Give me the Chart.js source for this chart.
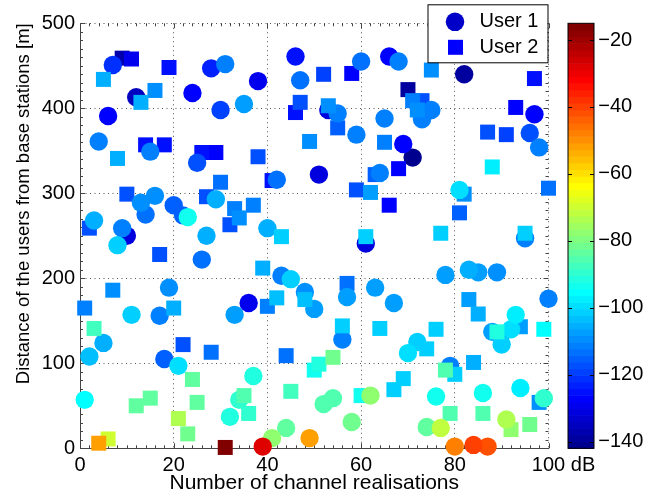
<!DOCTYPE html>
<html>
<head>
<meta charset="utf-8">
<title>User distance vs channel realisations</title>
<script src="https://cdn.jsdelivr.net/npm/chart.js@4/dist/chart.umd.min.js"></script>
<style>
  html, body { margin: 0; padding: 0; background: #fff; }
  #wrap { width: 669px; height: 498px; }
</style>
</head>
<body>
<div id="wrap"><canvas id="chart" width="669" height="498"></canvas></div>
<script>
// channel realisation index (x axis)
const realisations = [
  1, 2, 3, 4, 5, 6, 7, 8, 9, 10, 11, 12, 13, 14, 15, 16, 17, 18, 19, 20,
  21, 22, 23, 24, 25, 26, 27, 28, 29, 30, 31, 32, 33, 34, 35, 36, 37, 38, 39, 40,
  41, 42, 43, 44, 45, 46, 47, 48, 49, 50, 51, 52, 53, 54, 55, 56, 57, 58, 59, 60,
  61, 62, 63, 64, 65, 66, 67, 68, 69, 70, 71, 72, 73, 74, 75, 76, 77, 78, 79, 80,
  81, 82, 83, 84, 85, 86, 87, 88, 89, 90, 91, 92, 93, 94, 95, 96, 97, 98, 99, 100
];

// distance of user 1 (circles) [m]
const user1Distance = [
  57, 108, 268, 361, 124, 391, 451, 239, 259, 250,
  157, 413, 289, 275, 349, 297, 156, 105, 189, 286,
  97, 274, 272, 418, 336, 222, 250, 447, 293, 398,
  452, 37, 157, 57, 405, 171, 85, 432, 2, 259,
  12, 316, 203, 24, 199, 461, 433, 184, 12, 164,
  322, 52, 398, 59, 394, 128, 178, 31, 369, 455,
  241, 62, 189, 324, 388, 461, 171, 455, 358, 112,
  342, 125, 387, 25, 398, 61, 24, 204, 97, 2,
  304, 440, 210, 4, 207, 65, 2, 137, 207, 122,
  34, 140, 157, 71, 247, 371, 393, 354, 59, 176
];
// channel gain of user 1 [dB]
const user1Db = [
  -96, -103, -106, -111, -105, -127, -122, -102, -112, -132,
  -102, -135, -110, -114, -111, -109, -112, -116, -110, -116,
  -99, -116, -94, -128, -118, -114, -106, -124, -106, -120,
  -111, -92, -108, -90, -108, -130, -91, -130, -27, -106,
  -78, -114, -112, -84, -101, -126, -113, -110, -51, -108,
  -132, -86, -132, -86, -111, -112, -108, -81, -111, -113,
  -132, -78, -108, -112, -112, -128, -108, -112, -128, -100,
  -141, -102, -112, -84, -112, -94, -72, -108, -112, -48,
  -100, -140, -105, -40, -108, -94, -41, -108, -110, -102,
  -74, -100, -98, -98, -112, -118, -128, -111, -90, -112
];

// distance of user 2 (squares) [m]
const user2Distance = [
  165, 259, 141, 6, 434, 11, 186, 341, 459, 299,
  458, 50, 407, 357, 59, 421, 228, 357, 448, 165,
  35, 122, 17, 81, 54, 348, 296, 113, 348, 313,
  1, 263, 282, 271, 62, 41, 286, 343, 212, 167,
  315, 177, 249, 109, 67, 395, 407, 175, 361, 92,
  99, 440, 403, 107, 377, 144, 194, 441, 304, 62,
  249, 301, 322, 141, 360, 286, 69, 329, 82, 422,
  409, 398, 409, 117, 445, 140, 253, 92, 41, 87,
  277, 299, 175, 101, 158, 41, 372, 331, 137, 127,
  369, 22, 401, 143, 253, 28, 435, 54, 140, 306
];
// channel gain of user 2 [dB]
const user2Db = [
  -112, -118, -88, -51, -106, -70, -110, -106, -137, -118,
  -130, -84, -106, -126, -84, -110, -118, -126, -126, -106,
  -74, -118, -81, -84, -84, -126, -118, -114, -128, -114,
  -16, -118, -112, -110, -86, -90, -112, -118, -105, -112,
  -126, -103, -101, -114, -87, -126, -118, -103, -110, -94,
  -92, -120, -110, -81, -116, -102, -114, -128, -118, -94,
  -101, -108, -116, -102, -112, -128, -101, -128, -101, -140,
  -112, -110, -118, -101, -110, -102, -101, -86, -86, -101,
  -116, -110, -108, -106, -106, -86, -118, -98, -91, -112,
  -120, -78, -128, -108, -102, -82, -126, -110, -96, -114
];

const xTicks = [0, 20, 40, 60, 80, 100];
const yTicks = [0, 100, 200, 300, 400, 500];
const dbTicks = [-140, -120, -100, -80, -60, -40, -20];
const dbRange = [-142, -15];
const legendLabels = ['User 1', 'User 2'];

const FONT = "'Liberation Sans', Arial, Helvetica, sans-serif";
const NCOL = 64;

// matlab jet(64)
function jet(i) {
  const n = 16;
  const u = k => (k < 1 || k > 47) ? 0 : (k <= n ? k / n : (k <= 31 ? 1 : (48 - k) / n));
  const r = u(i - 24), g = u(i - 8), b = u(i + 8);
  return `rgb(${Math.round(r * 255)},${Math.round(g * 255)},${Math.round(b * 255)})`;
}

function dbColor(v) {
  let idx = Math.floor((v - dbRange[0]) / (dbRange[1] - dbRange[0]) * NCOL);
  idx = Math.max(0, Math.min(NCOL - 1, idx));
  return jet(idx + 1);
}

// one list, weakest gain drawn first
const points = [];
realisations.forEach((r, i) => {
  points.push({ x: r, y: user1Distance[i], db: user1Db[i], style: 'circle' });
  points.push({ x: r, y: user2Distance[i], db: user2Db[i], style: 'rect' });
});
points.sort((a, b) => a.db - b.db);

function setTicks(arr) {
  return scale => { scale.ticks = arr.map(v => ({ value: v })); };
}

// colorbar, tick marks, legend box
const decorations = {
  id: 'decorations',
  beforeDatasetsDraw(chart) {
    const { ctx, chartArea: ca, scales } = chart;
    const xs = scales.x, ys = scales.y;
    ctx.save();
    ctx.strokeStyle = '#444';
    ctx.lineWidth = 1;
    ctx.beginPath();
    for (let v = 0; v <= 100; v += 2) {
      const px = Math.round(xs.getPixelForValue(v)) + 0.5;
      const len = xTicks.includes(v) ? 5 : 3;
      ctx.moveTo(px, ca.bottom); ctx.lineTo(px, ca.bottom - len);
      ctx.moveTo(px, ca.top); ctx.lineTo(px, ca.top + len);
    }
    for (let v = 0; v <= 500; v += 10) {
      const py = Math.round(ys.getPixelForValue(v)) + 0.5;
      const len = yTicks.includes(v) ? 5 : 3;
      ctx.moveTo(ca.left, py); ctx.lineTo(ca.left + len, py);
      ctx.moveTo(ca.right, py); ctx.lineTo(ca.right - len, py);
    }
    ctx.stroke();
    ctx.restore();
  },
  afterDraw(chart) {
    const { ctx, chartArea: ca, scales } = chart;
    const cs = scales.cbar;
    const x0 = ca.right + 19.5, x1 = ca.right + 45.5;
    ctx.save();
    const step = (dbRange[1] - dbRange[0]) / NCOL;
    for (let i = 0; i < NCOL; i++) {
      const yA = cs.getPixelForValue(dbRange[0] + i * step);
      const yB = cs.getPixelForValue(dbRange[0] + (i + 1) * step);
      ctx.fillStyle = jet(i + 1);
      ctx.fillRect(x0, yB, x1 - x0, yA - yB + 0.6);
    }
    ctx.strokeStyle = '#000';
    ctx.lineWidth = 1;
    ctx.strokeRect(x0, cs.top, x1 - x0, cs.bottom - cs.top);
    ctx.beginPath();
    for (const v of dbTicks) {
      const py = Math.round(cs.getPixelForValue(v)) + 0.5;
      ctx.moveTo(x0, py); ctx.lineTo(x0 + 4, py);
      ctx.moveTo(x1, py); ctx.lineTo(x1 - 4, py);
    }
    ctx.stroke();
    ctx.fillStyle = '#000';
    ctx.font = `20px ${FONT}`;
    ctx.textAlign = 'center';
    ctx.textBaseline = 'middle';
    ctx.fillText('dB', (x0 + x1) / 2 + 2, ca.bottom + 17);

    // legend
    const lx0 = ca.right - 121, lx1 = ca.right - 1, ly0 = ca.top - 19, ly1 = ca.top + 39;
    ctx.fillStyle = '#fff';
    ctx.fillRect(lx0, ly0, lx1 - lx0, ly1 - ly0);
    ctx.strokeStyle = '#000';
    ctx.strokeRect(lx0 + 0.5, ly0 + 0.5, lx1 - lx0, ly1 - ly0);
    ctx.fillStyle = '#0000c8';
    ctx.beginPath();
    ctx.arc(lx0 + 27.5, ly0 + 17.5, 9.3, 0, Math.PI * 2);
    ctx.fill();
    ctx.fillStyle = '#0000ff';
    ctx.fillRect(lx0 + 20.5, ly0 + 35.5, 15, 15);
    ctx.fillStyle = '#000';
    ctx.textAlign = 'left';
    ctx.fillText(legendLabels[0], lx0 + 52, ly0 + 17);
    ctx.fillText(legendLabels[1], lx0 + 52, ly0 + 43);
    ctx.restore();
  }
};

const tickFont = { family: FONT, size: 20 };

new Chart(document.getElementById('chart'), {
  type: 'scatter',
  data: {
    datasets: [{
      label: 'users',
      data: points,
      clip: false,
      pointStyle: c => c.raw ? c.raw.style : 'circle',
      pointRadius: c => (c.raw && c.raw.style === 'rect') ? 10.6 : 9.2,
      backgroundColor: c => c.raw ? dbColor(c.raw.db) : '#00f',
      borderWidth: 0,
      pointBorderWidth: 0,
    }]
  },
  options: {
    responsive: false,
    devicePixelRatio: 1,
    animation: false,
    events: [],
    layout: { padding: { top: 23.3, left: 0, right: 0, bottom: 0 } },
    plugins: { legend: { display: false }, tooltip: { enabled: false } },
    scales: {
      x: {
        type: 'linear', min: 0, max: 100,
        afterBuildTicks: setTicks(xTicks),
        afterFit: s => { s.height = 49.7; },
        ticks: { font: tickFont, color: '#000', padding: 5.5, maxRotation: 0, autoSkip: false },
        grid: { color: '#555', drawTicks: false },
        border: { color: '#444', width: 1, dash: [1, 3.5] },
        title: { display: true, text: 'Number of channel realisations', color: '#000',
                 font: { family: FONT, size: 21 }, padding: { top: 0, bottom: 2.4 } }
      },
      y: {
        type: 'linear', min: 0, max: 500,
        afterBuildTicks: setTicks(yTicks),
        afterFit: s => { s.width = 80; },
        ticks: { font: tickFont, color: '#000', padding: 5 },
        grid: { color: '#555', drawTicks: false },
        border: { color: '#444', width: 1, dash: [1, 3.5] },
        title: { display: true, text: 'Distance of the users from base stations [m]', color: '#000',
                 align: 'end', font: { family: FONT, size: 18.5 }, padding: { top: 13.3, bottom: 0 } }
      },
      cbar: {
        type: 'linear', position: 'right', axis: 'y',
        min: dbRange[0], max: dbRange[1],
        afterBuildTicks: setTicks(dbTicks),
        afterFit: s => { s.width = 120.5; },
        // tick length only pushes the labels past the colour bar
        ticks: { font: tickFont, color: '#000', padding: 2,
                 callback: v => '\u2212' + Math.abs(v) },
        grid: { display: false, drawTicks: true, tickLength: 47.8 },
        border: { display: false }
      }
    }
  },
  plugins: [decorations]
});
</script>
</body>
</html>
